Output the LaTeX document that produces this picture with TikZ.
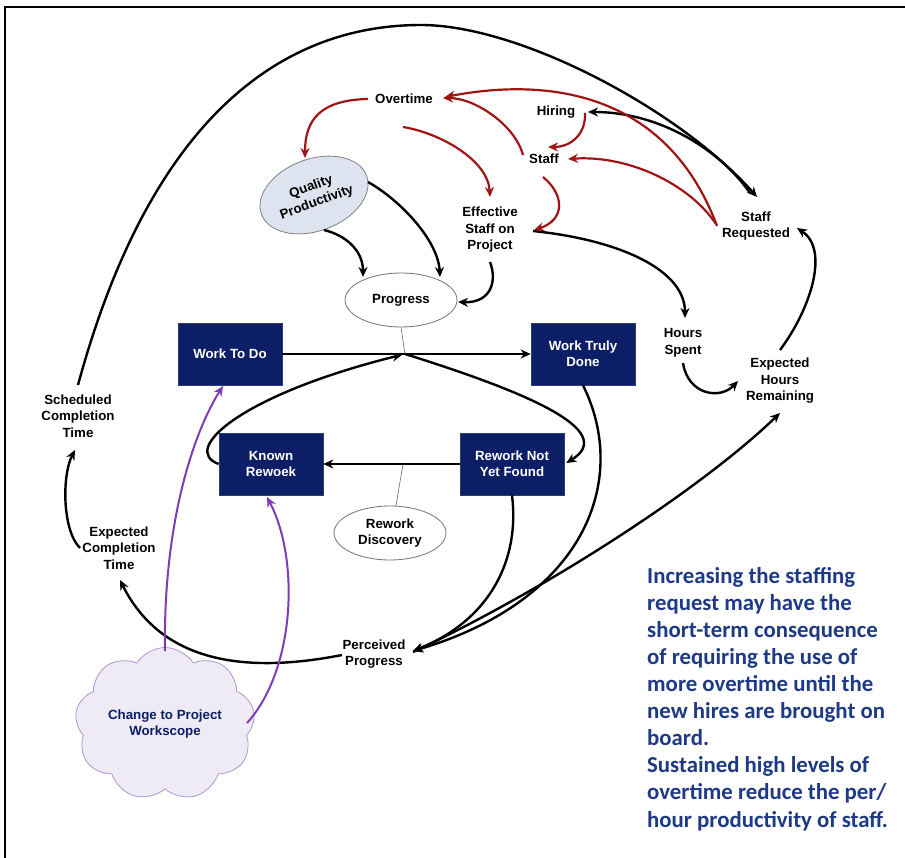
\documentclass[tikz,border=0pt]{standalone}
\usepackage{fontspec}
\setmainfont{Liberation Sans}
\newfontfamily\calibri{Carlito}
\usetikzlibrary{arrows.meta,shapes.geometric,shapes.symbols}
\definecolor{navy}{HTML}{0C1F66}
\definecolor{notecol}{HTML}{1E3A86}
\definecolor{redl}{HTML}{A01414}
\definecolor{purp}{HTML}{7E3DB5}
\definecolor{qpfill}{HTML}{DDE3EF}
\definecolor{cloudfill}{HTML}{EEEBF4}
\definecolor{clouddraw}{HTML}{AC96D2}
\begin{document}
\begin{tikzpicture}[x=1pt,y=-1pt,
  lbl/.style={font=\bfseries\fontsize{13.3}{16.5}\selectfont, align=center, inner sep=1pt},
  stockbox/.style={fill=navy, draw=navy!70!gray, line width=0.6pt, text=white, minimum width=104pt, minimum height=62pt, inner sep=0pt, font=\bfseries\fontsize{13.3}{16}\selectfont, align=center},
  auxell/.style={ellipse, draw=black!55, line width=0.8pt, fill=white, minimum width=112pt, minimum height=54pt, inner sep=0pt, font=\bfseries\fontsize{13.3}{16.5}\selectfont, align=center},
  blk/.style={draw=black, line width=2.4pt, -{Stealth[length=10pt,width=9pt]}},
  rd/.style={draw=redl, line width=2.2pt, -{Stealth[length=10pt,width=9pt]}},
  pu/.style={draw=purp, line width=2pt, -{Stealth[length=10pt,width=9pt]}},
  thin/.style={draw=black!60, line width=0.6pt}
]
\useasboundingbox (0,0) rectangle (905,858);
\fill[white] (0,0) rectangle (905,858);
% frame
\draw[line width=2pt] (905,7) -- (5,7) -- (5,858);

% nodes
\node[lbl] (ov) at (404,99) {Overtime};
\node[lbl] (hi) at (556,112) {Hiring};
\node[lbl] (st) at (544,159) {Staff};
\node[ellipse, draw=black!50, line width=0.8pt, fill=qpfill, minimum width=112pt, minimum height=72pt, inner sep=0pt, rotate=20, font=\bfseries\fontsize{13.3}{16.5}\selectfont, align=center] (qp) at (314,195) {Quality\\Productivity};
\node[lbl] (es) at (490,230) {Effective\\Staff on\\Project};
\node[lbl] (sr) at (756,226) {Staff\\Requested};
\node[auxell] (pr) at (401,300) {Progress};
\node[stockbox] (wtd) at (230,354) {Work To Do};
\node[stockbox] (wtdn) at (583,354) {Work Truly\\Done};
\node[stockbox] (kr) at (271,464) {Known\\Rewoek};
\node[stockbox] (rnf) at (512,464) {Rework Not\\Yet Found};
\node[auxell] (rdisc) at (390,533) {Rework\\Discovery};
\node[lbl] (hs) at (683,343) {Hours\\Spent};
\node[lbl] (ehr) at (780,381) {Expected\\Hours\\Remaining};
\node[lbl] (sct) at (78,416) {Scheduled\\Completion\\Time};
\node[lbl] (ect) at (119,548) {Expected\\Completion\\Time};
\node[lbl] (pp) at (374,654) {Perceived\\Progress};
\node[cloud, cloud puffs=9, cloud puff arc=115, cloud ignores aspect, draw=clouddraw, line width=0.8pt, fill=cloudfill, minimum width=180pt, minimum height=153pt, inner sep=0pt, text=navy, font=\bfseries\fontsize{13.3}{16.5}\selectfont, align=center] (cl) at (165,724) {Change to Project\\Workscope};
\coordinate (v1) at (405,354);
\coordinate (v2) at (403,464);

% note
\node[anchor=base west, inner sep=0pt, align=left, text=notecol, font=\calibri\bfseries\fontsize{22.8}{27.1}\selectfont] (note) at (647,827) {Increasing the staffing\\request may have the\\short-term consequence\\of requiring the use of\\more overtime until the\\new hires are brought on\\board.\\Sustained high levels of\\overtime reduce the per/\\hour productivity of staff.};

% stock flows
\draw[blk] (wtd.east) -- (wtdn.west);
\draw[blk] (rnf.west) -- (kr.east);
\draw[thin] (v1) -- (pr.south);
\draw[thin] (v2) -- ([shift={(6,0)}]rdisc.north);

% black connectors
\draw[blk] ([shift={(0,-31)}]sct.center) .. controls (150,120) and (280,25) .. (421,25)
  .. controls (520,25) and (680,110) .. ([shift={(1,-29)}]sr.center);
\draw[blk] ([shift={(-6,-33)}]sr.center) .. controls (720,150) and (660,112) .. ([shift={(32,0)}]hi.center);
\draw[blk] ([shift={(10,35)}]qp.center) .. controls (345,235) and (363,250) .. ([shift={(-38,-23)}]pr.center);
\draw[blk] ([shift={(54,-13)}]qp.center) .. controls (400,200) and (438,240) .. ([shift={(39,-23)}]pr.center);
\draw[blk] ([shift={(0,32)}]es.center) .. controls (497,280) and (492,303) .. ([shift={(57,2)}]pr.center);
\draw[blk] ([shift={(43,1)}]es.center) .. controls (620,240) and (685,270) .. ([shift={(2,-25)}]hs.center);
\draw[blk] ([shift={(0,20)}]hs.center) .. controls (688,395) and (720,400) .. ([shift={(-42,0)}]ehr.center);
\draw[blk] ([shift={(0,-31)}]ehr.center) .. controls (810,310) and (830,250) .. ([shift={(41,2)}]sr.center);
\draw[blk] ([shift={(39,-2)}]pp.center) .. controls (545,590) and (700,490) .. ([shift={(0,32)}]ehr.center);
\draw[blk] (wtdn.south) .. controls (630,480) and (585,600) .. ([shift={(39,-3)}]pp.center);
\draw[blk] (rnf.south) .. controls (520,560) and (490,620) .. ([shift={(39,-3)}]pp.center);
\draw[blk] (v1) .. controls (520,390) and (620,430) .. ([shift={(2,-1)}]rnf.east);
\draw[blk, shorten >=3pt] (kr.west) .. controls (180,450) and (240,395) .. (v1);
\draw[blk] ([shift={(-32,1)}]pp.center) .. controls (240,675) and (160,660) .. ([shift={(1,32)}]ect.center);
\draw[blk] ([shift={(-39,0)}]ect.center) .. controls (62,530) and (62,475) .. ([shift={(-3,34)}]sct.center);

% red connectors
\draw[rd] ([shift={(-36,0)}]ov.center) .. controls (320,100) and (305,120) .. ([shift={(-9,-37)}]qp.center);
\draw[rd] ([shift={(-1,28)}]ov.center) .. controls (440,133) and (488,160) .. ([shift={(0,-33)}]es.center);
\draw[rd] ([shift={(-21,-4)}]st.center) .. controls (515,125) and (475,98) .. ([shift={(39,-1)}]ov.center);
\draw[rd] ([shift={(-39,0)}]sr.center) .. controls (670,100) and (560,75) .. ([shift={(41,-2)}]ov.center);
\draw[rd] ([shift={(-40,-2)}]sr.center) .. controls (690,185) and (630,155) .. ([shift={(24,0)}]st.center);
\draw[rd] ([shift={(29,1)}]hi.center) .. controls (586,135) and (570,147) .. ([shift={(4,-12)}]st.center);
\draw[rd] ([shift={(-1,18)}]st.center) .. controls (565,195) and (565,220) .. ([shift={(44,0)}]es.center);

% purple connectors
\draw[pu] ([shift={(0,-73)}]cl.center) .. controls (163,520) and (195,430) .. ([shift={(-7,32)}]wtd.center);
\draw[pu] ([shift={(82,-1)}]cl.center) .. controls (295,670) and (300,560) .. ([shift={(-4,33)}]kr.center);
\end{tikzpicture}
\end{document}
